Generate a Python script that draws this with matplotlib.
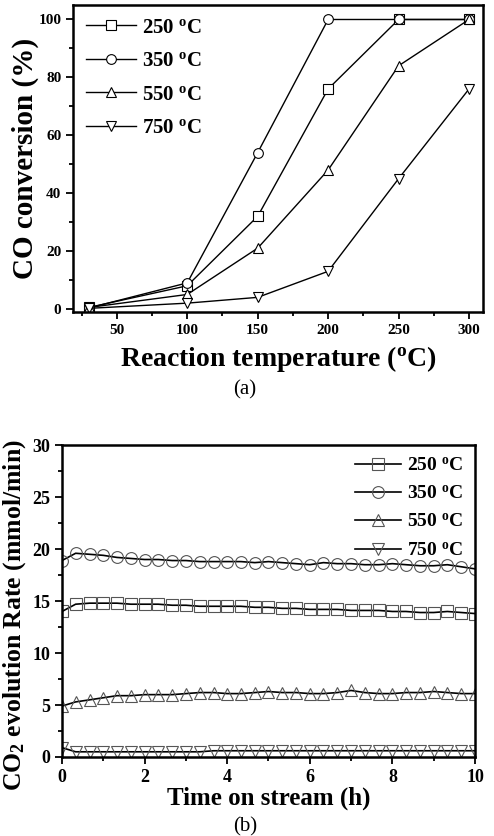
import matplotlib
matplotlib.use("Agg")
import matplotlib.pyplot as plt
from matplotlib.ticker import MultipleLocator

plt.rcParams['font.family'] = ['Liberation Serif', 'DejaVu Serif']
plt.rcParams['font.weight'] = 'bold'
plt.rcParams['mathtext.default'] = 'regular'

# ---- panel (a): CO conversion vs reaction temperature
temp_a = [30, 100, 150, 200, 250, 300]
conv_250 = [0.5, 8, 32, 76, 100, 100]
conv_350 = [0.3, 9, 54, 100, 100, 100]
conv_550 = [0.5, 5, 21, 48, 84, 100]
conv_750 = [0.2, 2, 4, 13, 45, 76]

# ---- panel (b): CO2 evolution rate vs time on stream
time_b = [0, 0.33, 0.67, 1.0, 1.33, 1.67, 2.0, 2.33, 2.67, 3.0, 3.33, 3.67, 4.0,
          4.33, 4.67, 5.0, 5.33, 5.67, 6.0, 6.33, 6.67, 7.0, 7.33, 7.67, 8.0,
          8.33, 8.67, 9.0, 9.33, 9.67, 10.0]
rate_250 = [14.0, 14.7, 14.8, 14.8, 14.8, 14.7, 14.7, 14.7, 14.6, 14.6, 14.5,
            14.5, 14.5, 14.5, 14.4, 14.4, 14.3, 14.3, 14.2, 14.2, 14.2, 14.1,
            14.1, 14.1, 14.0, 14.0, 13.9, 13.9, 14.0, 13.9, 13.8]
rate_350 = [18.9, 19.6, 19.5, 19.4, 19.2, 19.1, 19.0, 19.0, 18.9, 18.9, 18.8,
            18.8, 18.8, 18.8, 18.7, 18.8, 18.7, 18.6, 18.5, 18.7, 18.6, 18.6,
            18.5, 18.5, 18.6, 18.5, 18.4, 18.4, 18.5, 18.3, 18.1]
rate_550 = [4.9, 5.3, 5.5, 5.7, 5.9, 5.9, 6.0, 6.0, 6.0, 6.1, 6.2, 6.2, 6.1,
            6.1, 6.2, 6.3, 6.2, 6.2, 6.1, 6.1, 6.2, 6.4, 6.2, 6.1, 6.1, 6.2,
            6.2, 6.3, 6.2, 6.1, 6.1]
rate_750 = [0.9, 0.5, 0.5, 0.5, 0.5, 0.5, 0.5, 0.5, 0.5, 0.5, 0.5, 0.6, 0.6,
            0.6, 0.6, 0.6, 0.6, 0.6, 0.6, 0.6, 0.6, 0.6, 0.6, 0.6, 0.6, 0.6,
            0.6, 0.6, 0.6, 0.6, 0.6]

labels = ['250 $^{o}$C', '350 $^{o}$C', '550 $^{o}$C', '750 $^{o}$C']
markers = ['s', 'o', '^', 'v']

fig = plt.figure(figsize=(4.94, 8.36), dpi=100)

# panel (a)
ax1 = fig.add_axes([0.148, 0.627, 0.830, 0.367])
for y, m, lab in zip([conv_250, conv_350, conv_550, conv_750], markers, labels):
    ax1.plot(temp_a, y, color='black', lw=1.0, marker=m, ms=7, mfc='white',
             mec='black', mew=0.8, label=lab)
ax1.set_xlim(19, 310)
ax1.set_ylim(-1, 105)
ax1.xaxis.set_major_locator(MultipleLocator(50))
ax1.xaxis.set_minor_locator(MultipleLocator(25))
ax1.yaxis.set_major_locator(MultipleLocator(20))
ax1.yaxis.set_minor_locator(MultipleLocator(10))
ax1.set_xticks([50, 100, 150, 200, 250, 300])
ax1.tick_params(which='both', direction='out', top=False, right=False, width=1.3)
ax1.tick_params(which='major', length=5, labelsize=11)
ax1.tick_params(which='minor', length=3)
ax1.set_xlabel('Reaction temperature ($^{o}$C)', fontsize=20, fontweight='bold')
ax1.set_ylabel('CO conversion (%)', fontsize=21, fontweight='bold')
ax1.xaxis.set_label_coords(0.5, -0.105)
ax1.yaxis.set_label_coords(-0.083, 0.5)
ax1.legend(loc='upper left', frameon=False, fontsize=15, handlelength=2.4,
           borderaxespad=0.2, labelspacing=0.65, handletextpad=0.3)
for s in ax1.spines.values():
    s.set_linewidth(1.8)

fig.text(0.496, 0.5335, '(a)', ha='center', va='center', fontsize=15,
         fontweight='normal')

# panel (b)
ax2 = fig.add_axes([0.1255, 0.0945, 0.836, 0.373])
for y, m, lab in zip([rate_250, rate_350, rate_550, rate_750], markers, labels):
    ax2.plot(time_b, y, color='black', lw=1.2, marker=m, ms=8.5, mfc='none',
             mec='#555555', mew=0.8, label=lab)
ax2.set_xlim(0, 10)
ax2.set_ylim(0, 30)
ax2.xaxis.set_major_locator(MultipleLocator(2))
ax2.xaxis.set_minor_locator(MultipleLocator(1))
ax2.yaxis.set_major_locator(MultipleLocator(5))
ax2.yaxis.set_minor_locator(MultipleLocator(2.5))
ax2.tick_params(which='both', direction='out', top=False, right=False, width=1.3)
ax2.tick_params(which='major', length=5, labelsize=13)
ax2.tick_params(which='minor', length=3)
ax2.set_xlabel('Time on stream (h)', fontsize=18, fontweight='bold')
ax2.set_ylabel('CO$_2$ evolution Rate (mmol/min)', fontsize=18.5, fontweight='bold')
ax2.xaxis.set_label_coords(0.5, -0.095)
ax2.yaxis.set_label_coords(-0.082, 0.455)
ax2.legend(loc='upper right', frameon=False, fontsize=14, handlelength=2.4,
           borderaxespad=0.2, labelspacing=0.55, handletextpad=0.3)
for s in ax2.spines.values():
    s.set_linewidth(1.8)

fig.text(0.496, 0.0, '(b)', ha='center', va='bottom', fontsize=15,
         fontweight='normal')

fig.savefig('out.png', dpi=100)
